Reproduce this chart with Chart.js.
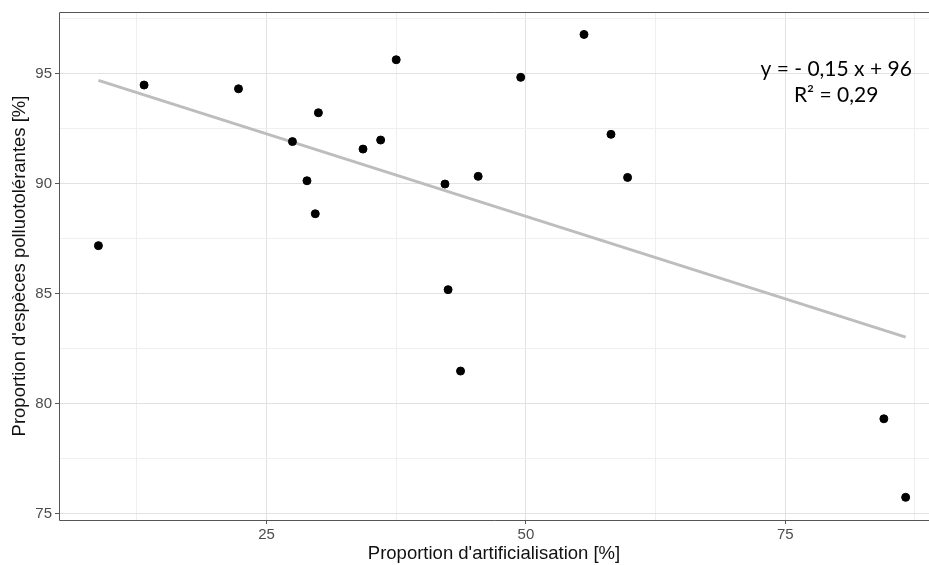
<!DOCTYPE html>
<html>
<head>
<meta charset="utf-8">
<script src="https://cdn.jsdelivr.net/npm/chart.js@4.4.1/dist/chart.umd.min.js"></script>
<style>
  html, body { margin: 0; padding: 0; background: #fff; }
  #wrap { width: 929px; height: 565px; }
</style>
</head>
<body>
<div id="wrap"><canvas id="scatter"></canvas></div>
<script>
// artificialisation (%) vs pollution-tolerant species (%)
var artif = [8.8, 13.2, 22.3, 27.5, 28.9, 29.7, 30.0, 34.3, 36.0, 37.5,
             42.2, 42.5, 43.7, 45.4, 49.5, 55.6, 58.2, 59.8, 84.5, 86.6];
var tolerant = [87.17, 94.47, 94.30, 91.90, 90.12, 88.62, 93.21, 91.56, 91.97, 95.62,
                89.97, 85.17, 81.47, 90.32, 94.82, 96.77, 92.23, 90.27, 79.30, 75.73];

// fitted trend, as printed on the chart
var slope = -0.15;
var intercept = 96;
var eqLines = ['y = - 0,15 x + 96', 'R\u00b2 = 0,29'];

var xTicks = [12.5, 25, 37.5, 50, 62.5, 75, 87.5];
var yTicks = [75, 77.5, 80, 82.5, 85, 87.5, 90, 92.5, 95, 97.5];
var xMajor = [25, 50, 75];
var yMajor = [75, 80, 85, 90, 95];

var points = artif.map(function (x, i) { return {x: x, y: tolerant[i]}; });
var xLo = Math.min.apply(null, artif), xHi = Math.max.apply(null, artif);
var trend = [xLo, xHi].map(function (x) { return {x: x, y: intercept + slope * x}; });

function isMajor(list, v) { return list.indexOf(v) !== -1; }

// top/left/bottom frame, like the ggplot panel
var frame = {
  id: 'frame',
  afterDraw: function (chart) {
    var a = chart.chartArea, ctx = chart.ctx;
    ctx.save();
    ctx.strokeStyle = '#555';
    ctx.lineWidth = 1;
    ctx.beginPath();
    ctx.moveTo(a.right, a.top + 0.5);
    ctx.lineTo(a.left + 0.5, a.top + 0.5);
    ctx.lineTo(a.left + 0.5, a.bottom + 0.5);
    ctx.lineTo(a.right, a.bottom + 0.5);
    ctx.stroke();
    ctx.restore();
  }
};

// regression equation text
var equation = {
  id: 'equation',
  afterDatasetsDraw: function (chart) {
    var ctx = chart.ctx, xs = chart.scales.x, ys = chart.scales.y;
    var cx = xs.getPixelForValue(79.9);
    ctx.save();
    ctx.fillStyle = '#000';
    ctx.font = '21px Lato, "Open Sans", sans-serif';
    ctx.textAlign = 'center';
    ctx.textBaseline = 'middle';
    ctx.fillText(eqLines[0], cx, ys.getPixelForValue(95.21));
    ctx.fillText(eqLines[1], cx, ys.getPixelForValue(93.99));
    ctx.restore();
  }
};

var tickFont = {family: '"Liberation Sans", Arial, sans-serif', size: 15};
var titleFont = {family: '"Liberation Sans", Arial, sans-serif', size: 18.5};

new Chart(document.getElementById('scatter'), {
  type: 'scatter',
  data: {
    datasets: [
      {
        type: 'line',
        data: trend,
        borderColor: '#bdbdbd',
        borderWidth: 3,
        pointRadius: 0,
        fill: false,
        order: 2
      },
      {
        data: points,
        backgroundColor: '#000',
        borderColor: '#000',
        pointRadius: 4,
        order: 1
      }
    ]
  },
  options: {
    responsive: true,
    maintainAspectRatio: false,
    animation: false,
    layout: { autoPadding: false, padding: { top: 12, right: 0, left: 0, bottom: 0 } },
    plugins: { legend: { display: false }, tooltip: { enabled: false } },
    scales: {
      x: {
        type: 'linear',
        min: 5,
        max: 88.85,
        afterBuildTicks: function (s) { s.ticks = xTicks.map(function (v) { return {value: v}; }); },
        afterFit: function (s) { s.height = 45; },
        border: { display: false },
        grid: {
          color: function (c) { return isMajor(xMajor, c.tick && c.tick.value) ? '#e2e2e2' : '#efefef'; },
          tickColor: function (c) { return isMajor(xMajor, c.tick && c.tick.value) ? '#555' : 'rgba(0,0,0,0)'; },
          tickLength: 4
        },
        ticks: {
          color: '#4d4d4d',
          font: tickFont,
          padding: 2,
          maxRotation: 0,
          autoSkip: false,
          callback: function (v) { return isMajor(xMajor, v) ? String(v) : ''; }
        },
        title: {
          display: true,
          text: "Proportion d'artificialisation [%]",
          color: '#111',
          font: titleFont,
          padding: { top: 2, bottom: 0 }
        }
      },
      y: {
        type: 'linear',
        min: 74.7,
        max: 97.79,
        afterBuildTicks: function (s) { s.ticks = yTicks.map(function (v) { return {value: v}; }); },
        afterFit: function (s) { s.width = 59; },
        border: { display: false },
        grid: {
          color: function (c) { return isMajor(yMajor, c.tick && c.tick.value) ? '#e2e2e2' : '#efefef'; },
          tickColor: function (c) { return isMajor(yMajor, c.tick && c.tick.value) ? '#555' : 'rgba(0,0,0,0)'; },
          tickLength: 4
        },
        ticks: {
          color: '#4d4d4d',
          font: tickFont,
          padding: 3,
          autoSkip: false,
          callback: function (v) { return isMajor(yMajor, v) ? String(v) : ''; }
        },
        title: {
          display: true,
          text: "Proportion d'espèces polluotolérantes [%]",
          color: '#111',
          font: titleFont,
          padding: { top: 9, bottom: 0 }
        }
      }
    }
  },
  plugins: [frame, equation]
});
</script>
</body>
</html>
